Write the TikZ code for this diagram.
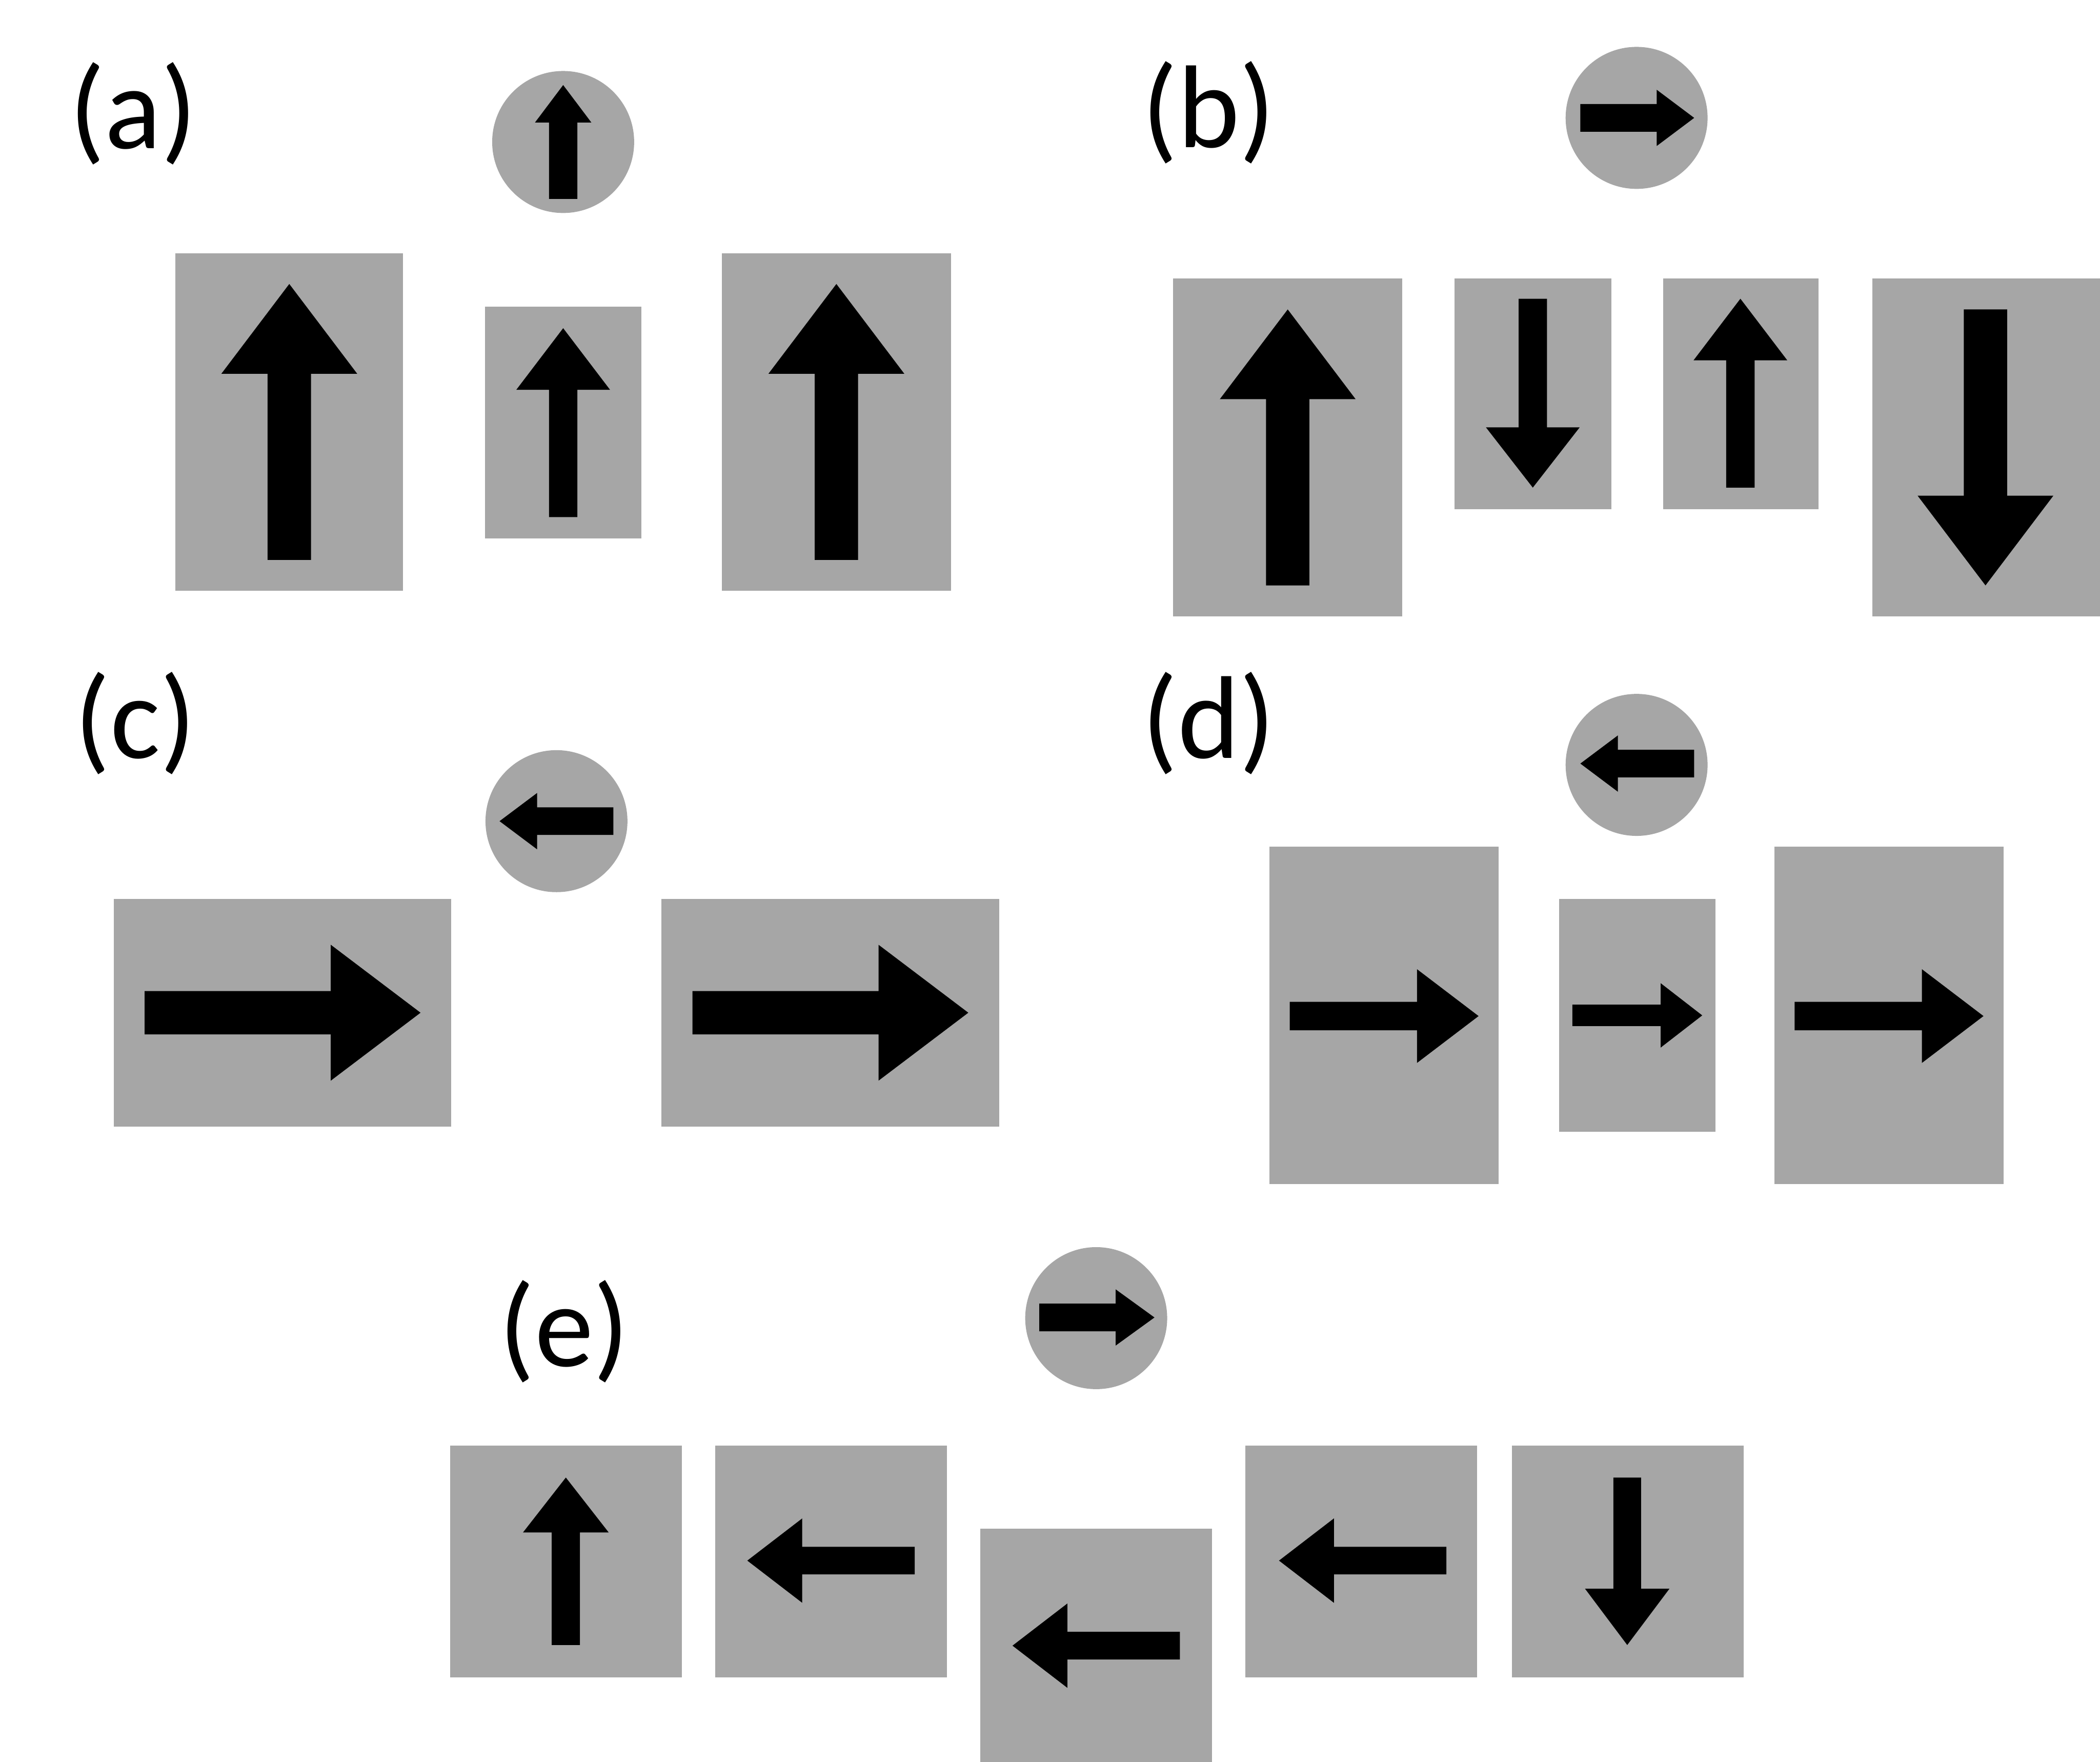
\documentclass[tikz,border=0pt]{standalone}
\usepackage{fontspec}
\setmainfont{Carlito}
\definecolor{panelgray}{HTML}{A6A6A6}
\tikzset{
  panel/.style={fill=panelgray},
  pointer/.style={fill=black},
  lbl/.style={inner sep=0pt, anchor=base west, font=\fontsize{25}{30}\selectfont}
}
% vertical arrow: cx, y start, y head base, y tip, shaft half width, head half width
\newcommand\vArr[6]{\fill[pointer] ({#1-#5},#2) -- ({#1-#5},#3) -- ({#1-#6},#3) -- (#1,#4) -- ({#1+#6},#3) -- ({#1+#5},#3) -- ({#1+#5},#2) -- cycle;}
% horizontal arrow: cy, x start, x head base, x tip, shaft half width, head half width
\newcommand\hArr[6]{\fill[pointer] (#2,{#1-#5}) -- (#3,{#1-#5}) -- (#3,{#1-#6}) -- (#4,#1) -- (#3,{#1+#6}) -- (#3,{#1+#5}) -- (#2,{#1+#5}) -- cycle;}
\begin{document}
\begin{tikzpicture}[x=0.01cm,y=-0.01cm]
\useasboundingbox (0,0) rectangle (1568,1315);
\clip (0,0) rectangle (1568,1315);
% ---------- (a)
\node[lbl] (la) at (51,111) {(a)};
\fill[panel] (420.5,106) circle (53);
\vArr{420.5}{148.5}{91.4}{63.5}{10.6}{21}
\fill[panel] (131,189) rectangle (301,441);
\vArr{216}{418}{279}{212}{16.2}{50.7}
\fill[panel] (362,229) rectangle (479,402);
\vArr{420.5}{386}{291}{245}{10.6}{35}
\fill[panel] (539,189) rectangle (710,441);
\vArr{624.5}{418}{279}{212}{16.2}{50.7}
% ---------- (b)
\node[lbl] (lb) at (852,110) {(b)};
\fill[panel] (1222,88) circle (53);
\hArr{88}{1180}{1237}{1265}{10.3}{21}
\fill[panel] (876,208) rectangle (1047,460);
\vArr{961.5}{437}{298}{231}{16.2}{50.7}
\fill[panel] (1086,208) rectangle (1203,380);
\vArr{1144.5}{223}{319}{364}{10.6}{35}
\fill[panel] (1242,208) rectangle (1358,380);
\vArr{1299.5}{364}{269}{223}{10.6}{35}
\fill[panel] (1398,208) rectangle (1570,460);
\vArr{1482.5}{231}{370}{437}{16.2}{50.7}
% ---------- (c)
\node[lbl] (lc) at (55,566) {(c)};
\fill[panel] (415.5,613) circle (53);
\hArr{613}{458}{401}{373}{10.3}{21}
\fill[panel] (85,671) rectangle (337,841);
\hArr{756}{108}{247}{314}{16.2}{50.7}
\fill[panel] (494,671) rectangle (746,841);
\hArr{756}{517}{656}{723}{16.2}{50.7}
% ---------- (d)
\node[lbl] (ld) at (852,566) {(d)};
\fill[panel] (1222,571) circle (53);
\hArr{570}{1265}{1208}{1180}{10.3}{21}
\fill[panel] (948,632) rectangle (1119,884);
\hArr{758.5}{963}{1058}{1104}{10.6}{35}
\fill[panel] (1164,671) rectangle (1281,845);
\hArr{758}{1174}{1240}{1271}{8}{24}
\fill[panel] (1325,632) rectangle (1496,884);
\hArr{758.5}{1340}{1435}{1481}{10.6}{35}
% ---------- (e)
\node[lbl] (le) at (372,1020) {(e)};
\fill[panel] (818.5,984) circle (53);
\hArr{983.5}{776}{833}{862}{10.3}{21}
\fill[panel] (336,1079) rectangle (509,1252);
\vArr{422.5}{1228}{1144}{1103}{10.5}{32}
\fill[panel] (534,1079) rectangle (707,1252);
\hArr{1165}{683}{599}{558}{10.3}{31.5}
\fill[panel] (732,1141) rectangle (905,1320);
\hArr{1228.5}{881}{797}{756}{10.3}{31.5}
\fill[panel] (930,1079) rectangle (1103,1252);
\hArr{1165}{1080}{996}{955}{10.3}{31.5}
\fill[panel] (1129,1079) rectangle (1302,1252);
\vArr{1215}{1103}{1186}{1228}{10.3}{31.5}
\end{tikzpicture}
\end{document}
